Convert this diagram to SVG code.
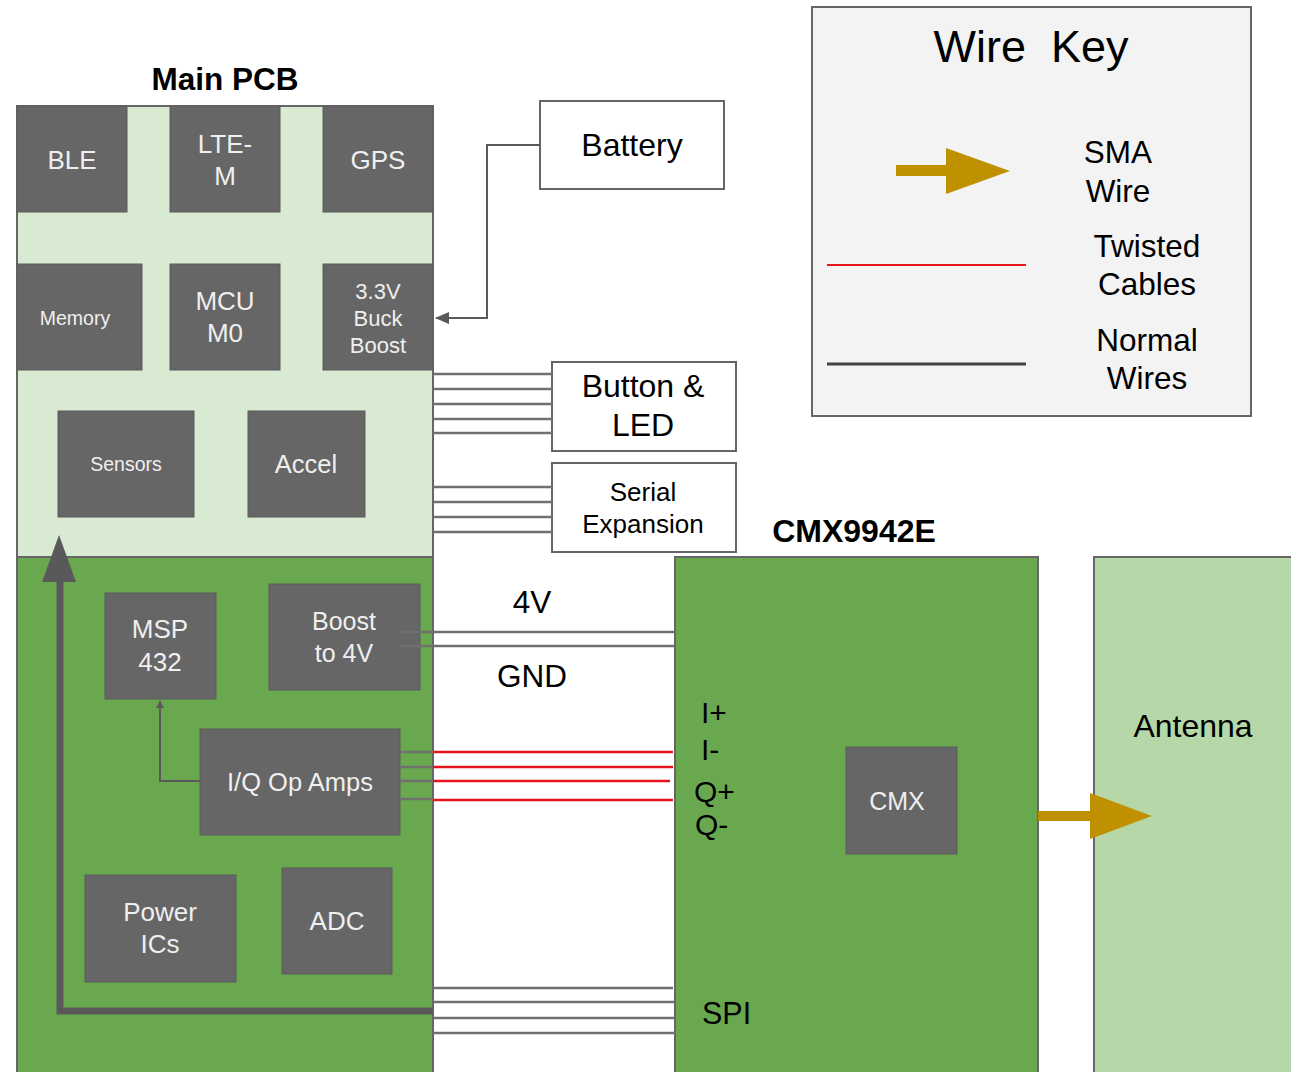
<svg xmlns="http://www.w3.org/2000/svg" width="1291" height="1072" viewBox="0 0 1291 1072">
<defs>
<style>
.t{font-family:"Liberation Sans",Arial,sans-serif;text-anchor:middle}
.s{font-family:"Liberation Sans",Arial,sans-serif}
.b{font-weight:bold;fill:#000}
.k{fill:#000}
.w{fill:#efefef}
.blk{fill:#666666;stroke:#5a5a5a;stroke-width:1}
.box{fill:#ffffff;stroke:#666666;stroke-width:2}
.wire{stroke:#707070;stroke-width:2.5;fill:none}
.red{stroke:#e8141c;stroke-width:2.5;fill:none}
.dark{stroke:#595959;fill:none}
.gold{fill:#bf9000}
</style>
<marker id="ah" markerWidth="8" markerHeight="8" refX="7" refY="4" orient="auto" markerUnits="userSpaceOnUse" viewBox="0 0 8 8">
<path d="M0,0 L8,4 L0,8 z" fill="#595959"/>
</marker>
<marker id="ahs" markerWidth="14" markerHeight="12" refX="13" refY="6" orient="auto" markerUnits="userSpaceOnUse" viewBox="0 0 14 12">
<path d="M0,0 L14,6 L0,12 z" fill="#595959"/>
</marker>
</defs>
<rect width="1291" height="1072" fill="#ffffff"/>

<g id="main-pcb">
<text class="t b" x="225" y="90" font-size="31.5">Main PCB</text>
<rect x="17" y="106" width="416" height="451" fill="#d9ead3" stroke="#666666" stroke-width="2"/>
<rect x="17" y="557" width="416" height="520" fill="#6aa84f" stroke="#666666" stroke-width="2"/>
</g>

<g id="ble"><rect class="blk" x="17" y="106" width="110" height="106"/><text class="t w" x="72" y="169" font-size="26">BLE</text></g>
<g id="lte-m"><rect class="blk" x="170" y="106" width="110" height="106"/><text class="t w" x="225" y="153" font-size="26">LTE-</text><text class="t w" x="225" y="185" font-size="26">M</text></g>
<g id="gps"><rect class="blk" x="323" y="106" width="110" height="106"/><text class="t w" x="378" y="169" font-size="26">GPS</text></g>
<g id="memory"><rect class="blk" x="17" y="264" width="125" height="106"/><text class="t w" x="75" y="325" font-size="19.5">Memory</text></g>
<g id="mcu"><rect class="blk" x="170" y="264" width="110" height="106"/><text class="t w" x="225" y="310" font-size="26">MCU</text><text class="t w" x="225" y="342" font-size="26">M0</text></g>
<g id="buck-boost"><rect class="blk" x="323" y="264" width="110" height="106"/><text class="t w" x="378" y="299" font-size="22">3.3V</text><text class="t w" x="378" y="326" font-size="22">Buck</text><text class="t w" x="378" y="353" font-size="22">Boost</text></g>
<g id="sensors"><rect class="blk" x="58" y="411" width="136" height="106"/><text class="t w" x="126" y="471" font-size="19.5">Sensors</text></g>
<g id="accel"><rect class="blk" x="248" y="411" width="117" height="106"/><text class="t w" x="306" y="473" font-size="25.5">Accel</text></g>
<g id="msp432"><rect class="blk" x="105" y="593" width="111" height="106"/><text class="t w" x="160" y="638" font-size="26">MSP</text><text class="t w" x="160" y="671" font-size="26">432</text></g>
<g id="boost-4v"><rect class="blk" x="269" y="584" width="151" height="106"/><text class="t w" x="344" y="630" font-size="25">Boost</text><text class="t w" x="344" y="662" font-size="25">to 4V</text></g>
<g id="iq-opamps"><rect class="blk" x="200" y="729" width="200" height="106"/><text class="t w" x="300" y="791" font-size="25.5">I/Q Op Amps</text></g>
<g id="power-ics"><rect class="blk" x="85" y="875" width="151" height="107"/><text class="t w" x="160" y="921" font-size="26">Power</text><text class="t w" x="160" y="953" font-size="26">ICs</text></g>
<g id="adc"><rect class="blk" x="282" y="868" width="110" height="106"/><text class="t w" x="337" y="930" font-size="26">ADC</text></g>

<g id="battery"><rect class="box" x="540" y="101" width="184" height="88"/><text class="t k" x="632" y="156" font-size="32">Battery</text></g>
<g id="button-led"><rect class="box" x="552" y="362" width="184" height="89"/><text class="t k" x="643" y="397" font-size="32">Button &amp;</text><text class="t k" x="643" y="436" font-size="32">LED</text></g>
<g id="serial-expansion"><rect class="box" x="552" y="463" width="184" height="89"/><text class="t k" x="643" y="501" font-size="26">Serial</text><text class="t k" x="643" y="533" font-size="26">Expansion</text></g>

<g id="cmx9942e">
<text class="t b" x="854" y="542" font-size="32">CMX9942E</text>
<rect x="675" y="557" width="363" height="520" fill="#6aa84f" stroke="#666666" stroke-width="2"/>
<text class="s k" x="701" y="723" font-size="30">I+</text>
<text class="s k" x="701" y="760" font-size="30">I-</text>
<text class="s k" x="694" y="802" font-size="30">Q+</text>
<text class="s k" x="695" y="835" font-size="30">Q-</text>
<text class="s k" x="702" y="1024" font-size="30.5">SPI</text>
</g>
<g id="cmx"><rect class="blk" x="846" y="747" width="111" height="107"/><text class="t w" x="897" y="810" font-size="25">CMX</text></g>
<g id="antenna"><rect x="1094" y="557" width="210" height="520" fill="#b6d7a8" stroke="#666666" stroke-width="2"/><text class="t k" x="1193" y="737" font-size="32">Antenna</text></g>

<g id="wire-key">
<rect x="812" y="7" width="439" height="409" fill="#f3f3f3" stroke="#666666" stroke-width="2"/>
<text class="t k" x="1031" y="62" font-size="45" style="white-space:pre">Wire  Key</text>
<rect class="gold" x="896" y="165" width="52" height="11"/>
<polygon class="gold" points="946,148 1010,171 946,194"/>
<text class="t k" x="1118" y="163" font-size="31.5">SMA</text>
<text class="t k" x="1118" y="202" font-size="31.5">Wire</text>
<line x1="827" y1="265" x2="1026" y2="265" stroke="#e8141c" stroke-width="2"/>
<text class="t k" x="1147" y="257" font-size="31.5">Twisted</text>
<text class="t k" x="1147" y="295" font-size="31.5">Cables</text>
<line x1="827" y1="364" x2="1026" y2="364" stroke="#434343" stroke-width="3"/>
<text class="t k" x="1147" y="351" font-size="31.5">Normal</text>
<text class="t k" x="1147" y="389" font-size="31.5">Wires</text>
</g>

<g id="connectors">
<polyline class="dark" stroke-width="2" points="540,145 487,145 487,318 436,318" marker-end="url(#ahs)"/>
<line class="wire" x1="433" y1="374" x2="552" y2="374"/>
<line class="wire" x1="433" y1="389" x2="552" y2="389"/>
<line class="wire" x1="433" y1="404" x2="552" y2="404"/>
<line class="wire" x1="433" y1="419" x2="552" y2="419"/>
<line class="wire" x1="433" y1="433" x2="552" y2="433"/>
<line class="wire" x1="433" y1="487" x2="552" y2="487"/>
<line class="wire" x1="433" y1="502" x2="552" y2="502"/>
<line class="wire" x1="433" y1="517" x2="552" y2="517"/>
<line class="wire" x1="433" y1="532" x2="552" y2="532"/>
<line class="wire" x1="400" y1="632" x2="675" y2="632"/>
<line class="wire" x1="400" y1="646" x2="675" y2="646"/>
<text class="t k" x="532" y="613" font-size="31.5">4V</text>
<text class="t k" x="532" y="687" font-size="31.5">GND</text>
<line class="wire" x1="400" y1="752" x2="433" y2="752"/>
<line class="wire" x1="400" y1="767" x2="433" y2="767"/>
<line class="wire" x1="400" y1="781" x2="433" y2="781"/>
<line class="wire" x1="400" y1="799" x2="433" y2="799"/>
<line class="red" x1="433" y1="752" x2="673" y2="752"/>
<line class="red" x1="433" y1="767" x2="673" y2="767"/>
<line class="red" x1="433" y1="781" x2="670" y2="781"/>
<line class="red" x1="433" y1="800" x2="673" y2="800"/>
<line class="wire" x1="433" y1="988" x2="673" y2="988"/>
<line class="wire" x1="433" y1="1002" x2="675" y2="1002"/>
<line class="wire" x1="433" y1="1018" x2="675" y2="1018"/>
<line class="wire" x1="433" y1="1033" x2="675" y2="1033"/>
<polyline class="dark" stroke-width="2" points="200,781 160,781 160,701" marker-end="url(#ah)"/>
<polyline class="dark" stroke-width="7" stroke-linejoin="miter" points="433,1011 60,1011 60,578"/>
<polygon points="59,535 42,582 76,582" fill="#595959"/>
<rect class="gold" x="1038" y="811" width="54" height="10"/>
<polygon class="gold" points="1090,793 1152,816 1090,839"/>
</g>
</svg>
